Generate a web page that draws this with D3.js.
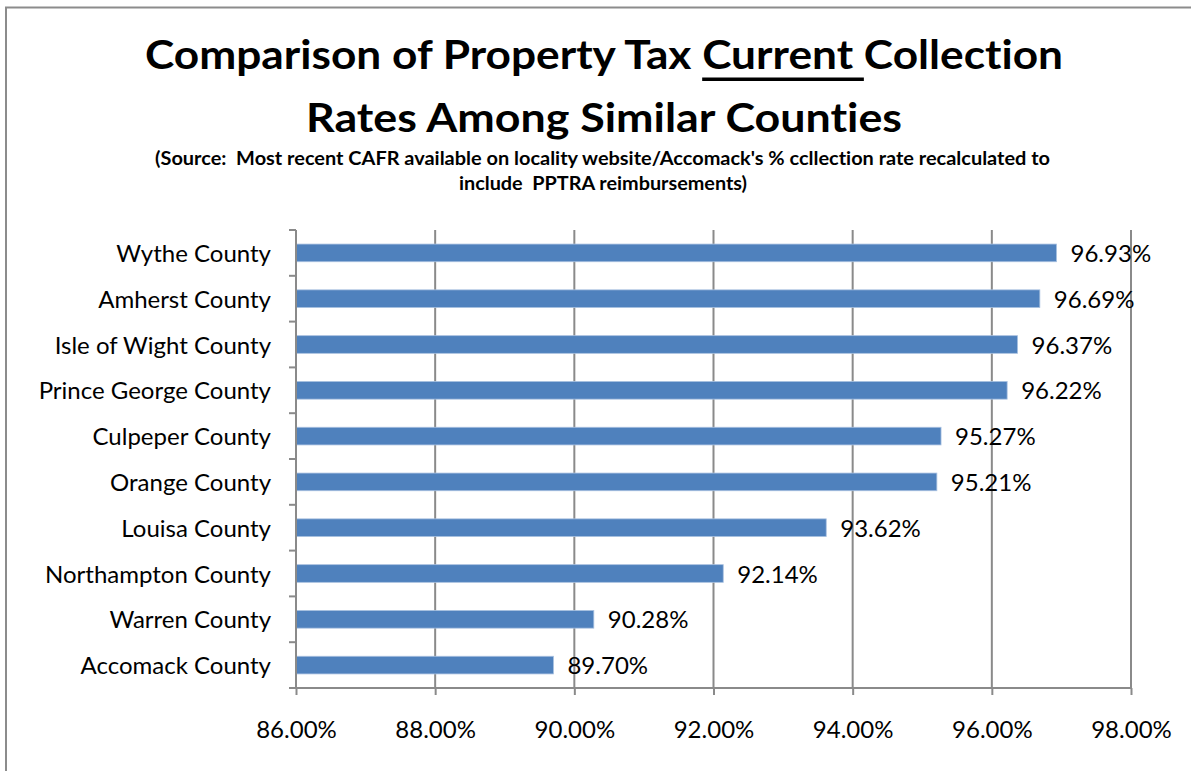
<!DOCTYPE html>
<html>
<head>
<meta charset="utf-8">
<script src="https://cdn.jsdelivr.net/npm/d3@7"></script>
<style>
  html, body { margin: 0; padding: 0; background: #ffffff; }
  svg { display: block; }
  text { font-family: Lato, "Open Sans", "Liberation Sans", sans-serif; fill: #000;
         font-variant-ligatures: none; font-feature-settings: "liga" 0, "clig" 0, "dlig" 0;
         white-space: pre; }
</style>
</head>
<body>
<svg id="chart" width="1191" height="771"></svg>
<script>
// Counties, listed top to bottom
const counties = [
  "Wythe County",
  "Amherst County",
  "Isle of Wight County",
  "Prince George County",
  "Culpeper County",
  "Orange County",
  "Louisa County",
  "Northampton County",
  "Warren County",
  "Accomack County"
];

// Current collection rate (%)
const rates = [96.93, 96.69, 96.37, 96.22, 95.27, 95.21, 93.62, 92.14, 90.28, 89.70];

// Horizontal axis ticks (%)
const tickValues = [86, 88, 90, 92, 94, 96, 98];

const titleLines = [
  ["Comparison of Property Tax ", "Current ", "Collection"],
  ["Rates Among Similar Counties"]
];
const subtitleLines = [
  "(Source:  Most recent CAFR available on locality website/Accomack's % ccllection rate recalculated to",
  "include  PPTRA reimbursements)"
];

const svg = d3.select("#chart");
const gridColor = "#8a8a8a";

// outer chart frame (runs off the right and bottom edges)
svg.append("rect")
  .attr("x", 6).attr("y", 7.5)
  .attr("width", 1400).attr("height", 1000)
  .attr("fill", "#ffffff")
  .attr("stroke", "#8c8c8c")
  .attr("stroke-width", 2);

const plot = { left: 296, right: 1131, top: 230, bottom: 688 };

const x = d3.scaleLinear()
  .domain([d3.min(tickValues), d3.max(tickValues)])
  .range([plot.left, plot.right]);

const y = d3.scaleBand()
  .domain(counties)
  .range([plot.top, plot.bottom])
  .paddingInner(0.614)
  .paddingOuter(0.307);

const cx = 604;

// title
const t1 = svg.append("text")
  .attr("x", cx).attr("y", 69)
  .attr("text-anchor", "middle")
  .style("font-size", "40px").style("font-weight", 700)
  .attr("textLength", 918).attr("lengthAdjust", "spacingAndGlyphs");
titleLines[0].forEach(s => t1.append("tspan").text(s));

svg.append("text")
  .attr("x", cx).attr("y", 132)
  .attr("text-anchor", "middle")
  .style("font-size", "40px").style("font-weight", 700)
  .attr("textLength", 596).attr("lengthAdjust", "spacingAndGlyphs")
  .text(titleLines[1][0]);

// underline beneath "Current "
(function () {
  const node = t1.node();
  const start = titleLines[0][0].length;
  const end = start + titleLines[0][1].length - 1;
  const x0 = node.getStartPositionOfChar(start).x;
  const x1 = node.getEndPositionOfChar(end).x;
  svg.append("rect")
    .attr("x", x0).attr("y", 77.5)
    .attr("width", x1 - x0).attr("height", 3.5)
    .attr("fill", "#000");
})();

// subtitle
svg.append("text")
  .attr("x", 602.5).attr("y", 165)
  .attr("text-anchor", "middle")
  .style("font-size", "18.5px").style("font-weight", 700)
  .attr("textLength", 895).attr("lengthAdjust", "spacingAndGlyphs")
  .text(subtitleLines[0]);
svg.append("text")
  .attr("x", 603).attr("y", 190)
  .attr("text-anchor", "middle")
  .style("font-size", "18.5px").style("font-weight", 700)
  .attr("textLength", 288).attr("lengthAdjust", "spacingAndGlyphs")
  .text(subtitleLines[1]);

// vertical gridlines
svg.append("g")
  .selectAll("line")
  .data(tickValues.slice(1))
  .join("line")
  .attr("x1", d => x(d)).attr("x2", d => x(d))
  .attr("y1", plot.top).attr("y2", plot.bottom)
  .attr("stroke", gridColor).attr("stroke-width", 2);

// bars
svg.append("g")
  .selectAll("rect")
  .data(counties)
  .join("rect")
  .attr("x", plot.left)
  .attr("y", d => y(d))
  .attr("width", (d, i) => x(rates[i]) - plot.left)
  .attr("height", y.bandwidth())
  .attr("fill", "#4f81bd")
  .attr("stroke", "#a9c1e0")
  .attr("stroke-width", 0.8);

// value labels
svg.append("g")
  .selectAll("text")
  .data(counties)
  .join("text")
  .attr("x", (d, i) => x(rates[i]) + 14)
  .attr("y", d => y(d) + y.bandwidth() / 2 + 9)
  .style("font-size", "24px")
  .text((d, i) => rates[i].toFixed(2) + "%");

// x axis
const xAxis = d3.axisBottom(x)
  .tickValues(tickValues)
  .tickSize(7)
  .tickPadding(0)
  .tickFormat(d => d3.format(".2f")(d) + "%");

const gx = svg.append("g")
  .attr("transform", `translate(0,${plot.bottom})`)
  .call(xAxis);
gx.attr("font-family", null).attr("font-size", null);
gx.select(".domain").attr("stroke", gridColor).attr("stroke-width", 2)
  .attr("d", `M${plot.left},0H${plot.right}`);
gx.selectAll(".tick line").attr("stroke", gridColor).attr("stroke-width", 2);
gx.selectAll(".tick text")
  .attr("y", 50).attr("dy", null)
  .style("font-size", "24px")
  .attr("fill", "#000");

// y axis
const yAxis = d3.axisLeft(y).tickSize(0).tickPadding(25);
const gy = svg.append("g")
  .attr("transform", `translate(${plot.left},0)`)
  .call(yAxis);
gy.attr("font-family", null).attr("font-size", null);
gy.select(".domain").attr("stroke", gridColor).attr("stroke-width", 2)
  .attr("d", `M0,${plot.top}V${plot.bottom}`);
gy.selectAll(".tick text")
  .attr("dy", null).attr("y", 9)
  .style("font-size", "24px")
  .attr("fill", "#000");

// tick marks on the category axis sit between the bands
const step = y.step();
gy.append("g")
  .selectAll("line")
  .data(d3.range(counties.length + 1))
  .join("line")
  .attr("x1", -7).attr("x2", 0)
  .attr("y1", i => plot.top + i * step).attr("y2", i => plot.top + i * step)
  .attr("stroke", gridColor).attr("stroke-width", 2);
</script>
</body>
</html>
